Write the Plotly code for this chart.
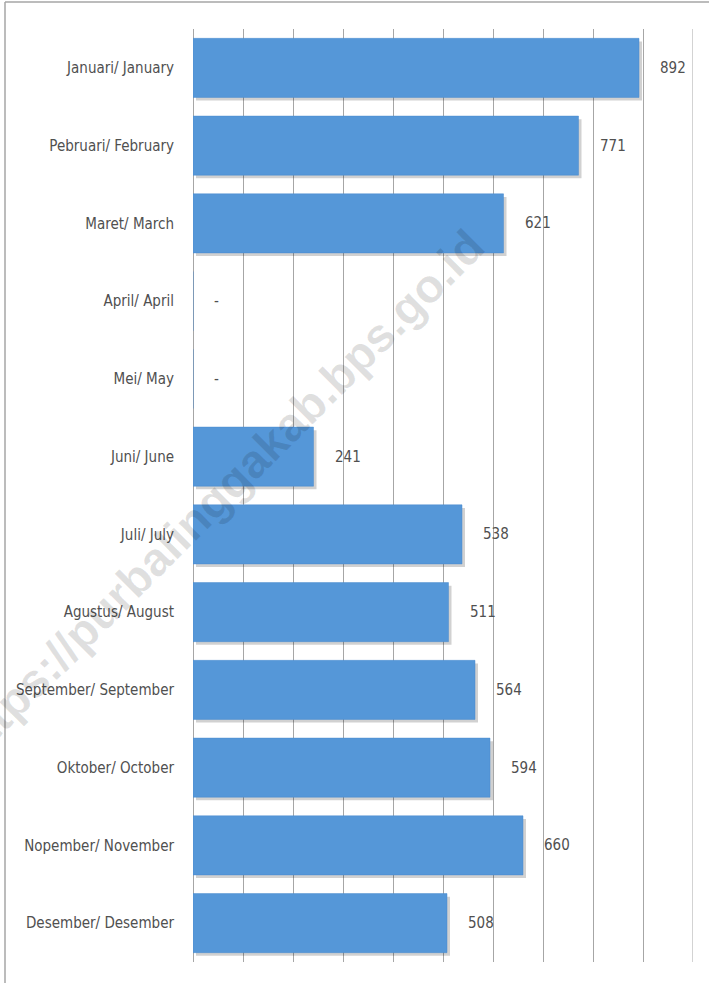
import plotly.graph_objects as go

months = [
    "Januari/ January", "Pebruari/ February", "Maret/ March", "April/ April",
    "Mei/ May", "Juni/ June", "Juli/ July", "Agustus/ August",
    "September/ September", "Oktober/ October", "Nopember/ November",
    "Desember/ Desember",
]
values = [892, 771, 621, 0, 0, 241, 538, 511, 564, 594, 660, 508]
value_labels = [str(v) if v else "-" for v in values]
x_max = 1000

FONT = "DejaVu Sans Condensed, Liberation Sans, sans-serif"
TEXT_COLOR = "#505050"
GRID_COLOR = "#a6a6a6"

fig = go.Figure()
# soft drop shadow behind the bars
fig.add_trace(go.Bar(
    x=values, y=months, orientation="h", base=6,
    width=0.76, offset=-0.34,
    marker=dict(color="rgba(0,0,0,0.18)", line=dict(width=0)),
    hoverinfo="skip",
))
fig.add_trace(go.Bar(
    x=values, y=months, orientation="h",
    width=0.76, offset=-0.38,
    marker=dict(color="#5597d8", line=dict(color="#4a8bcf", width=0.5)),
    hoverinfo="x+y",
))

# value labels sitting to the right of each bar
for m, v, lab in zip(months, values, value_labels):
    fig.add_annotation(
        x=v, y=m, text=lab, showarrow=False,
        xanchor="left", xshift=19,
        font=dict(family=FONT, size=15, color=TEXT_COLOR),
    )

# watermark
fig.add_annotation(
    x=0.05, y=0.50, xref="paper", yref="paper",
    xanchor="center", yanchor="middle",
    text="<b>https://purbalinggakab.bps.go.id</b>", showarrow=False,
    textangle=-45,
    font=dict(family="Liberation Sans, Arial, sans-serif", size=47,
              color="rgba(0,0,0,0.12)"),
)

# last gridline at the right edge of the plot (plotly drops it at the edge)
fig.add_shape(type="line", xref="x", yref="paper",
              x0=x_max, x1=x_max, y0=0, y1=1,
              line=dict(color=GRID_COLOR, width=1), layer="below")

# outer frame (top and left edges)
fig.add_shape(type="line", xref="paper", yref="paper",
              x0=-0.376, x1=1.04, y0=1.0289, y1=1.0289,
              line=dict(color=GRID_COLOR, width=1.5))
fig.add_shape(type="line", xref="paper", yref="paper",
              x0=-0.376, x1=-0.376, y0=1.0289, y1=-0.03,
              line=dict(color=GRID_COLOR, width=1.5))

fig.update_layout(
    width=709, height=983,
    margin=dict(l=193, r=16, t=29, b=21),
    plot_bgcolor="white",
    paper_bgcolor="white",
    barmode="overlay",
    showlegend=False,
    font=dict(family=FONT, size=15, color=TEXT_COLOR),
)
fig.update_xaxes(
    range=[0, x_max], dtick=100, showticklabels=False,
    showgrid=True, gridcolor=GRID_COLOR, gridwidth=1,
    zeroline=True, zerolinecolor=GRID_COLOR, zerolinewidth=1,
    showline=False, automargin=False,
)
fig.update_yaxes(
    autorange="reversed", showgrid=False, ticks="",
    ticklabelstandoff=18, automargin=False,
)

# drop the default page margin so the figure sits at the window corner
fig.write_html("out.html", config={"displayModeBar": False},
               post_script="document.body.style.margin='0';")
